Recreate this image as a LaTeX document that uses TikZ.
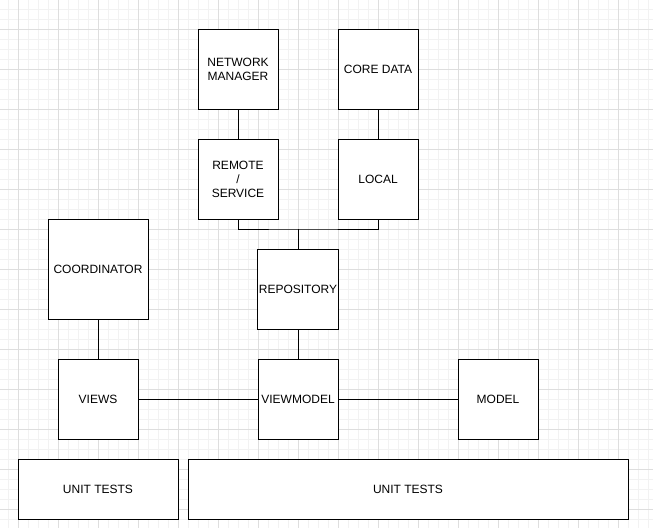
\documentclass[tikz,border=0pt]{standalone}
\usepackage{fontspec}
\setmainfont{Liberation Sans}
\begin{document}
\begin{tikzpicture}[x=1pt,y=-1pt,
  box/.style={draw=black,line width=1pt,fill=white,align=center,inner sep=1pt,
    font=\fontsize{12}{14}\selectfont},
  sq/.style={box,minimum width=80pt,minimum height=80pt},
  link/.style={draw=black,line width=1pt}]
\useasboundingbox (0,0) rectangle (653,528);
\fill[white] (0,0) rectangle (653,528);
% minor grid
\foreach \x in {8,18,...,648} \draw[line width=0.8pt,black!5] (\x,0) -- (\x,528);
\foreach \y in {9,19,...,528} \draw[line width=0.8pt,black!5] (0,\y) -- (653,\y);
% major grid
\foreach \x in {18,58,...,648} \draw[line width=0.8pt,black!13] (\x,0) -- (\x,528);
\foreach \y in {29,69,...,528} \draw[line width=0.8pt,black!13] (0,\y) -- (653,\y);

\node[sq] (nm) at (238,69) {NETWORK\\MANAGER};
\node[sq] (cd) at (378,69) {CORE DATA};
\node[sq] (rs) at (238,179) {REMOTE\\/\\SERVICE};
\node[sq] (loc) at (378,179) {LOCAL};
\node[sq] (repo) at (298,289) {REPOSITORY};
\node[box,minimum width=100pt,minimum height=100pt] (coord) at (98,269) {COORDINATOR};
\node[sq] (views) at (98,399) {VIEWS};
\node[sq] (vm) at (298,399) {VIEWMODEL};
\node[sq] (model) at (498,399) {MODEL};
\node[box,minimum width=160pt,minimum height=60pt] (ut1) at (98,489) {UNIT TESTS};
\node[box,minimum width=440pt,minimum height=60pt] (ut2) at (408,489) {UNIT TESTS};

\coordinate (j) at (298,229);
\draw[link] (nm.south) -- (rs.north);
\draw[link] (cd.south) -- (loc.north);
\draw[link] (rs.south) |- (j) -| (loc.south);
\draw[link] (j) -- (repo.north);
\draw[link] (repo.south) -- (vm.north);
\draw[link] (coord.south) -- (views.north);
\draw[link] (views.east) -- (vm.west);
\draw[link] (vm.east) -- (model.west);
\end{tikzpicture}
\end{document}
